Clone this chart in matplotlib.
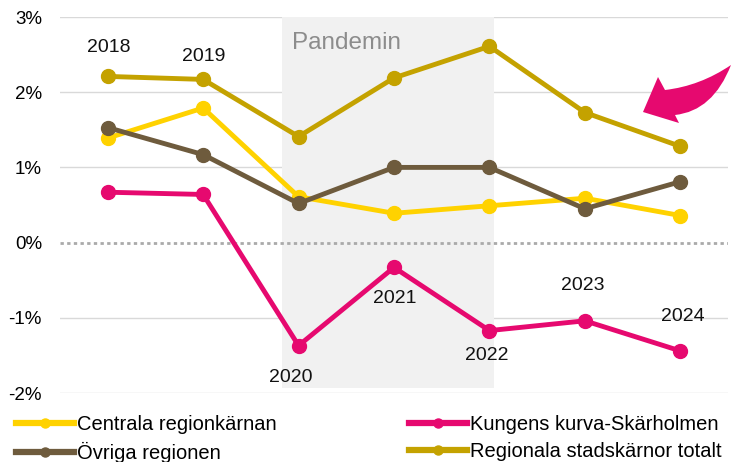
import matplotlib
matplotlib.use("Agg")
import matplotlib.pyplot as plt
from matplotlib.patches import PathPatch
from matplotlib.path import Path

years = ["2018", "2019", "2020", "2021", "2022", "2023", "2024"]
centrala = [1.39, 1.79, 0.61, 0.39, 0.49, 0.59, 0.36]
kungens = [0.67, 0.64, -1.37, -0.33, -1.17, -1.04, -1.44]
ovriga = [1.53, 1.17, 0.52, 1.00, 1.00, 0.45, 0.81]
regionala = [2.21, 2.17, 1.41, 2.19, 2.61, 1.73, 1.28]
yticks = [-2, -1, 0, 1, 2, 3]
ytick_labels = ["-2%", "-1%", "0%", "1%", "2%", "3%"]

plt.rcParams['font.family'] = ['Liberation Sans', 'DejaVu Sans']

W, H = 731, 462
fig = plt.figure(figsize=(W / 100, H / 100), dpi=100)
ax = fig.add_axes([60 / W, 1 - 393 / H, (728 - 60) / W, (393 - 17) / H])
x = list(range(len(years)))

ax.set_xlim(-0.5, len(years) - 0.5)
ax.set_ylim(-2, 3)
for s in ax.spines.values():
    s.set_visible(False)
ax.tick_params(length=0)
ax.set_xticks([])
ax.set_yticks(yticks)
ax.set_yticklabels(ytick_labels, fontsize=13.5)
ax.tick_params(axis='y', pad=13)

for t in yticks:
    if t == 0:
        ax.axhline(0, color="#aaaaaa", lw=2, ls=(0, (1.2, 1.2)), zorder=1)
    else:
        ax.axhline(t, color="#d9d9d9", lw=1, zorder=0)

ax.fill_between([1.83, 4.05], -1.93, 3, color="#f1f1f1", zorder=0, lw=0)
ax.text(1.93, 2.66, "Pandemin", fontsize=17.5, color="#8c8c8c", va="center", ha="left")

series = [
    ("Centrala regionkärnan", centrala, "#FFD200"),
    ("Kungens kurva-Skärholmen", kungens, "#E6096F"),
    ("Övriga regionen", ovriga, "#6E5B3D"),
    ("Regionala stadskärnor totalt", regionala, "#C4A200"),
]
handles = {}
for name, vals, col in series:
    h, = ax.plot(x, vals, color=col, lw=3.5, marker="o", ms=10, label=name, zorder=3)
    handles[name] = h

# year labels
label_pos = [(0.01, 2.59), (1.01, 2.48), (1.92, -1.79), (3.01, -0.74),
             (3.97, -1.50), (4.98, -0.57), (6.03, -0.98)]
for (i, yv), lab in zip(label_pos, years):
    ax.text(i, yv, lab, fontsize=14, ha="center", va="center", color="#111111")

# curved arrow (pixel coordinates, y from top)
pts = [
    (643, 112),  # tip
    (658, 77),   # head upper corner
    (665, 90),   # upper junction
    (700, 86), (731, 65),  # upper edge to tail
    (713, 111), (675, 115),  # lower edge back
    (679, 123),  # head lower corner
    (643, 112),
]
codes = [Path.MOVETO, Path.LINETO, Path.LINETO, Path.CURVE3, Path.CURVE3,
         Path.CURVE3, Path.CURVE3, Path.LINETO, Path.CLOSEPOLY]
verts = [(px / W, 1 - py / H) for px, py in pts]
fig.patches.append(PathPatch(Path(verts, codes), transform=fig.transFigure,
                             facecolor="#E6096F", edgecolor="none"))

leg_kw = dict(frameon=False, handlelength=2.9, fontsize=14.5,
              handletextpad=0.15, labelspacing=0.38, borderaxespad=0, borderpad=0.0)
leg1 = fig.legend(handles=[handles["Centrala regionkärnan"], handles["Övriga regionen"]],
                  loc="upper left", bbox_to_anchor=(16 / W, 1 - 415 / H), **leg_kw)
leg2 = fig.legend(handles=[handles["Kungens kurva-Skärholmen"], handles["Regionala stadskärnor totalt"]],
                  loc="upper left", bbox_to_anchor=(409 / W, 1 - 415 / H), **leg_kw)
for leg in (leg1, leg2):
    for h in leg.legend_handles:
        h.set_markersize(6.5)
        h.set_linewidth(4.5)

fig.savefig("out.png", dpi=100)
